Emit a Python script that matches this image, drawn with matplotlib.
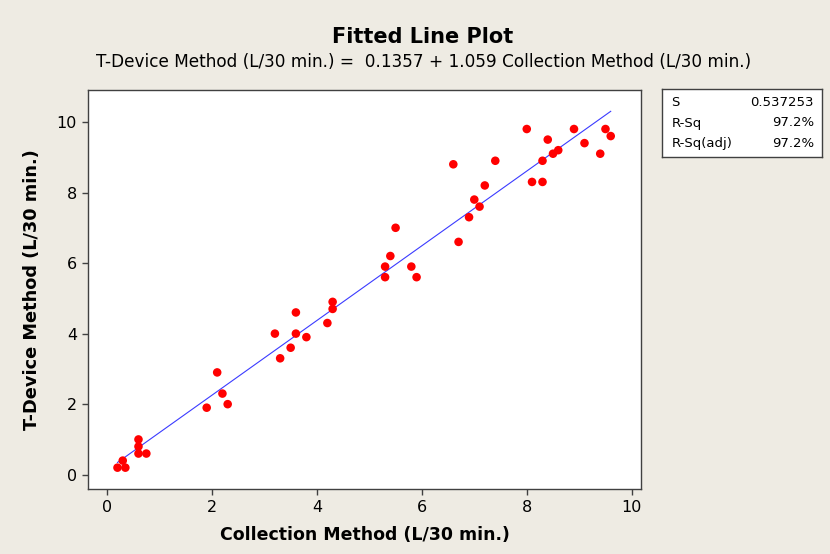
import matplotlib.pyplot as plt
import numpy as np

# Collection method vs T-device method (L/30 min.)
collection = [0.2, 0.3, 0.35, 0.6, 0.6, 0.6, 0.75, 1.9, 2.1, 2.2, 2.3,
              3.2, 3.3, 3.5, 3.6, 3.6, 3.8, 4.2, 4.3, 4.3,
              5.3, 5.3, 5.4, 5.5, 5.8, 5.9, 6.6, 6.7, 6.9, 7.0, 7.1, 7.2, 7.4,
              8.0, 8.1, 8.3, 8.3, 8.4, 8.5, 8.6, 8.9, 9.1, 9.4, 9.5, 9.6]
tdevice = [0.2, 0.4, 0.2, 1.0, 0.8, 0.6, 0.6, 1.9, 2.9, 2.3, 2.0,
           4.0, 3.3, 3.6, 4.6, 4.0, 3.9, 4.3, 4.7, 4.9,
           5.6, 5.9, 6.2, 7.0, 5.9, 5.6, 8.8, 6.6, 7.3, 7.8, 7.6, 8.2, 8.9,
           9.8, 8.3, 8.3, 8.9, 9.5, 9.1, 9.2, 9.8, 9.4, 9.1, 9.8, 9.6]

intercept = 0.1357
slope = 1.059
stats_names = ["S", "R-Sq", "R-Sq(adj)"]
stats_values = ["0.537253", "97.2%", "97.2%"]

bg = "#EEEBE3"
fig = plt.figure(figsize=(8.3, 5.54), dpi=100, facecolor=bg)
ax = fig.add_axes([88 / 830, 1 - 489 / 554, (641 - 88) / 830, (489 - 90) / 554])
ax.set_facecolor("white")

xs = np.array([min(collection), max(collection)])
ax.plot(xs, intercept + slope * xs, color="#3B3BFF", lw=0.8, zorder=2)
ax.scatter(collection, tdevice, s=38, color="#FF0000", edgecolors="none", zorder=3)

ax.set_xlim(-0.362, 10.177)
ax.set_ylim(-0.405, 10.906)
ax.set_xticks([0, 2, 4, 6, 8, 10])
ax.set_yticks([0, 2, 4, 6, 8, 10])
ax.tick_params(direction="out", length=4, width=1, colors="#404040",
               labelcolor="black", labelsize=11.5, pad=4)
for sp in ax.spines.values():
    sp.set_color("#404040")
    sp.set_linewidth(1)

ax.set_xlabel("Collection Method (L/30 min.)", fontsize=12.5, fontweight="bold", labelpad=8)
ax.set_ylabel("T-Device Method (L/30 min.)", fontsize=12.8, fontweight="bold", labelpad=11)

fig.text(423 / 830, 1 - 37 / 554, "Fitted Line Plot", ha="center", va="center",
         fontsize=15, fontweight="bold")
fig.text(424 / 830, 1 - 62 / 554,
         f"T-Device Method (L/30 min.) =  {intercept} + {slope} Collection Method (L/30 min.)",
         ha="center", va="center", fontsize=12.2)

# stats box
box = fig.add_axes([662 / 830, 1 - 157 / 554, (822 - 662) / 830, (157 - 89) / 554])
box.set_facecolor("white")
box.set_xticks([])
box.set_yticks([])
for sp in box.spines.values():
    sp.set_color("#404040")
    sp.set_linewidth(1)
for i, (n, v) in enumerate(zip(stats_names, stats_values)):
    yy = 0.8 - i * 0.3
    box.text(0.06, yy, n, ha="left", va="center", fontsize=9.5, transform=box.transAxes)
    box.text(0.95, yy, v, ha="right", va="center", fontsize=9.5, transform=box.transAxes)

fig.savefig("out.png", dpi=100, facecolor=bg)
